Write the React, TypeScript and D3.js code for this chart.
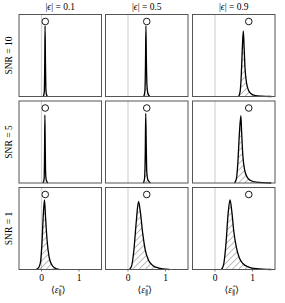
import React from 'react';
import * as d3 from 'd3';

// true |epsilon| of each column, SNR of each row
const epsilons = [0.1, 0.5, 0.9];
const snrs = [10, 5, 1];
const xTicks = [0, 1];

// density of the estimate (x = <eps_par>, y = relative density)
const snr10_e01: [number, number][] = [[0.05, 0], [0.075, 0.06], [0.085, 0.35], [0.095, 0.86], [0.105, 0.45], [0.115, 0.12], [0.13, 0.03], [0.16, 0]];
const snr10_e05: [number, number][] = [[0.42, 0], [0.45, 0.06], [0.465, 0.35], [0.478, 0.86], [0.49, 0.45], [0.505, 0.14], [0.53, 0.04], [0.58, 0]];
const snr10_e09: [number, number][] = [[0.63, 0], [0.67, 0.06], [0.7, 0.25], [0.73, 0.6], [0.755, 0.8], [0.775, 0.62], [0.8, 0.35], [0.84, 0.17], [0.89, 0.08], [0.96, 0.035], [1.08, 0.012], [1.25, 0.004], [1.5, 0]];

const snr5_e01: [number, number][] = [[0.04, 0], [0.07, 0.05], [0.08, 0.3], [0.09, 0.83], [0.1, 0.45], [0.11, 0.12], [0.13, 0.03], [0.17, 0]];
const snr5_e05: [number, number][] = [[0.41, 0], [0.44, 0.05], [0.46, 0.35], [0.473, 0.85], [0.487, 0.45], [0.5, 0.14], [0.53, 0.04], [0.6, 0]];
const snr5_e09: [number, number][] = [[0.52, 0], [0.57, 0.05], [0.61, 0.25], [0.65, 0.6], [0.69, 0.82], [0.71, 0.62], [0.74, 0.35], [0.79, 0.16], [0.86, 0.07], [0.95, 0.03], [1.1, 0.01], [1.5, 0]];

const snr1_e01: [number, number][] = [[-0.15, 0], [-0.08, 0.02], [-0.03, 0.08], [0.01, 0.3], [0.05, 0.68], [0.08, 0.85], [0.11, 0.62], [0.15, 0.35], [0.2, 0.16], [0.27, 0.06], [0.35, 0.02], [0.47, 0]];
const snr1_e05: [number, number][] = [[0.04, 0], [0.1, 0.05], [0.16, 0.25], [0.22, 0.58], [0.28, 0.83], [0.33, 0.7], [0.39, 0.45], [0.46, 0.24], [0.55, 0.11], [0.66, 0.05], [0.8, 0.02], [1.1, 0]];
const snr1_e09: [number, number][] = [[0.17, 0], [0.23, 0.06], [0.29, 0.3], [0.35, 0.68], [0.4, 0.85], [0.45, 0.7], [0.5, 0.47], [0.57, 0.27], [0.65, 0.14], [0.75, 0.07], [0.9, 0.03], [1.1, 0.01], [1.5, 0]];

const curves = [
  [snr10_e01, snr10_e05, snr10_e09],
  [snr5_e01, snr5_e05, snr5_e09],
  [snr1_e01, snr1_e05, snr1_e09],
];

const font = "'Liberation Serif', 'DejaVu Serif', serif";

export default function App() {
  const colLeft = [19, 105.5, 192.5];
  const rowTop = [14.5, 101, 187.5];
  const pw = 82.5, ph = 82;

  const x = d3.scaleLinear().domain([-0.6, 1.6]).range([0, pw]);
  const y = d3.scaleLinear().domain([0, 1]).range([ph, 0]);

  const area = d3.area<[number, number]>()
    .x(d => x(d[0]))
    .y0(y(0))
    .y1(d => y(d[1]))
    .curve(d3.curveMonotoneX);
  const line = d3.line<[number, number]>()
    .x(d => x(d[0]))
    .y(d => y(d[1]))
    .curve(d3.curveMonotoneX);

  return (
    <svg width={285} height={303} style={{ position: 'absolute', left: 0, top: 0, background: '#fff' }}
      fontFamily={font}>
      <defs>
        <pattern id="hatch" width={4.5} height={4.5} patternUnits="userSpaceOnUse" patternTransform="rotate(45)">
          <line x1={0} y1={0} x2={0} y2={4.5} stroke="#555" strokeWidth={0.8} />
        </pattern>
      </defs>

      {epsilons.map((e, c) => (
        <text key={'t' + c} x={colLeft[c] + pw / 2} y={10} textAnchor="middle" fontSize={9.5} fill="#000">
          |<tspan fontStyle="italic">ϵ</tspan>| = {e}
        </text>
      ))}

      {snrs.map((s, r) => (
        <text key={'s' + r} transform={`translate(11.5,${rowTop[r] + ph / 2}) rotate(-90)`}
          textAnchor="middle" fontSize={9.5} fill="#000">
          SNR = {s}
        </text>
      ))}

      {snrs.map((s, r) => epsilons.map((e, c) => {
        const data = curves[r][c];
        return (
          <g key={`p${r}${c}`} transform={`translate(${colLeft[c]},${rowTop[r]})`}>
            <line x1={x(0)} x2={x(0)} y1={0} y2={ph} stroke="#d4d4d4" strokeWidth={1.2} />
            <path d={area(data) || ''} fill="url(#hatch)" />
            <path d={line(data) || ''} fill="none" stroke="#000" strokeWidth={1.3} strokeLinejoin="round" />
            <circle cx={x(e)} cy={7} r={3.3} fill="#fff" stroke="#000" strokeWidth={0.9} />
            <rect x={0} y={0} width={pw} height={ph} fill="none" stroke="#555" strokeWidth={1} />
            {r === snrs.length - 1 && xTicks.map(t => (
              <g key={t}>
                <line x1={x(t)} x2={x(t)} y1={ph} y2={ph + 2} stroke="#555" strokeWidth={0.8} />
                <text x={x(t)} y={ph + 11.5} textAnchor="middle" fontSize={9.5} fill="#000">{t}</text>
              </g>
            ))}
          </g>
        );
      }))}

      {epsilons.map((e, c) => (
        <text key={'xl' + c} x={colLeft[c] + pw / 2 - 2} y={293} textAnchor="middle" fontSize={9.5} fill="#000">
          ⟨<tspan fontStyle="italic">ε̂</tspan><tspan fontSize={7} dy={2}>∥</tspan><tspan dy={-2}>⟩</tspan>
        </text>
      ))}
    </svg>
  );
}
